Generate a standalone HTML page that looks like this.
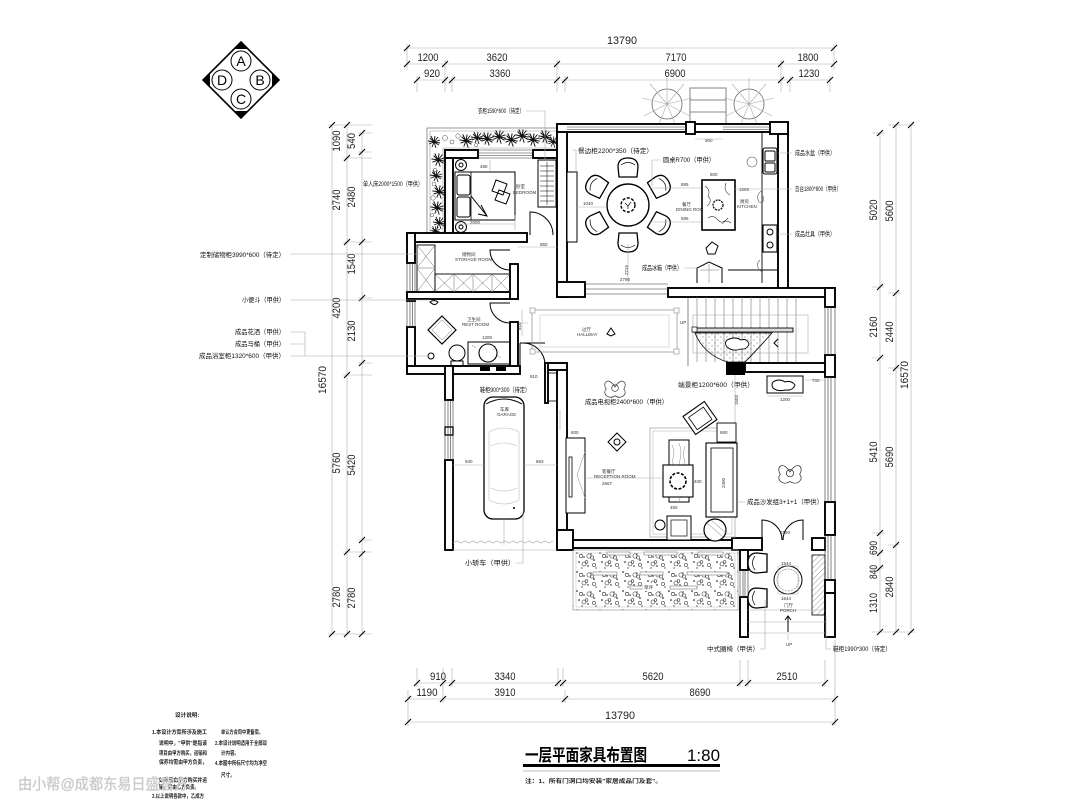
<!DOCTYPE html>
<html><head><meta charset="utf-8">
<style>
html,body{margin:0;padding:0;background:#fff;}
svg{display:block;}
text{font-family:"Liberation Sans","Noto Sans CJK SC",sans-serif;}
.d{font-family:"Liberation Sans Narrow","Liberation Sans",sans-serif;font-size:11px;fill:#222;}
.c{font-family:"Liberation Sans","Noto Sans CJK SC",sans-serif;font-size:6.5px;fill:#111;}
.s{font-size:4.5px;fill:#333;}
.n{font-family:"Liberation Sans","Noto Sans CJK SC",sans-serif;font-size:5.6px;fill:#222;font-weight:bold;}
.w{fill:#fff;stroke:#000;stroke-width:1.9;}
.g{stroke:#aaa;stroke-width:0.6;fill:none;}
.k{stroke:#000;stroke-width:1;fill:none;}
.t{stroke:#000;stroke-width:1.1;}
</style></head><body>
<svg width="1080" height="810" viewBox="0 0 1080 810" xmlns="http://www.w3.org/2000/svg">
<defs>
 <g id="pl" stroke="#111" stroke-width="0.9" fill="none">
  <path d="M0,0L6,-2M0,0L5,3M0,0L-5,2M0,0L-4,-4M0,0L1,-6M0,0L2,6M0,0L-6,-1M0,0L-2,5M0,0L4,-5M0,0L-3,-6M0,0L6,1"/>
 </g>
 <g id="ch">
  <path d="M-10,-3 Q-10,-12 0,-12 Q10,-12 10,-3 L9,7 L-9,7 Z" fill="#fff" stroke="#000" stroke-width="1.3"/>
  <path d="M-7,-5 Q0,-10 7,-5" fill="none" stroke="#000" stroke-width="0.7"/>
 </g>
 <g id="plant" stroke="#222" stroke-width="0.6" fill="none">
  <path d="M0,0 C-6,-10 -12,-4 -8,2 C-12,6 -6,12 0,8 C6,12 12,6 8,2 C12,-4 6,-10 0,0 Z"/>
  <circle cx="0" cy="1" r="3"/>
 </g>
 <pattern id="gd" width="23" height="19" patternUnits="userSpaceOnUse">
  <circle cx="2" cy="2" r="0.8" fill="#000"/>
  <circle cx="9" cy="6" r="0.7" fill="#000"/>
  <circle cx="4" cy="11" r="0.8" fill="#000"/>
  <circle cx="13" cy="15" r="0.7" fill="#000"/>
  <circle cx="19" cy="9" r="0.8" fill="#000"/>
  <circle cx="21" cy="17" r="0.6" fill="#000"/>
  <circle cx="7" cy="17" r="0.6" fill="#000"/>
  <circle cx="16" cy="3" r="0.6" fill="#000"/>
  <circle cx="14" cy="5" r="2.1" fill="none" stroke="#222" stroke-width="0.55"/>
  <circle cx="17" cy="6.5" r="1.6" fill="none" stroke="#222" stroke-width="0.55"/>
  <circle cx="6" cy="5" r="1.7" fill="none" stroke="#222" stroke-width="0.55"/>
  <circle cx="9" cy="13" r="2" fill="none" stroke="#222" stroke-width="0.55"/>
  <circle cx="11.5" cy="11" r="1.4" fill="none" stroke="#222" stroke-width="0.55"/>
  <circle cx="19" cy="14" r="1.6" fill="none" stroke="#222" stroke-width="0.55"/>
 </pattern>
 <pattern id="rk" width="6" height="6" patternUnits="userSpaceOnUse">
  <circle cx="1" cy="1" r="0.5" fill="#444"/>
  <circle cx="4" cy="4" r="0.5" fill="#444"/>
 </pattern>
 <pattern id="hz" width="4" height="4" patternUnits="userSpaceOnUse" patternTransform="rotate(45)">
  <line x1="0" y1="0" x2="0" y2="4" stroke="#555" stroke-width="0.6"/>
 </pattern>
</defs>

<!-- ================= COMPASS ================= -->
<g>
 <polygon points="241,42 279,80 241,118 203,80" fill="none" stroke="#000" stroke-width="1.6"/>
 <polygon points="241,42 234,49 248,49" fill="#000"/>
 <polygon points="279,80 272,73 272,87" fill="#000"/>
 <polygon points="241,118 234,111 248,111" fill="#000"/>
 <polygon points="203,80 210,73 210,87" fill="#000"/>
 <circle cx="241" cy="61" r="10" fill="#fff" stroke="#000" stroke-width="1"/>
 <circle cx="222" cy="80" r="10" fill="#fff" stroke="#000" stroke-width="1"/>
 <circle cx="260" cy="80" r="10" fill="#fff" stroke="#000" stroke-width="1"/>
 <circle cx="241" cy="99" r="10" fill="#fff" stroke="#000" stroke-width="1"/>
 <text x="241" y="66" font-size="14" text-anchor="middle" fill="#000">A</text>
 <text x="222" y="85" font-size="14" text-anchor="middle" fill="#000">D</text>
 <text x="260" y="85" font-size="14" text-anchor="middle" fill="#000">B</text>
 <text x="241" y="104" font-size="14" text-anchor="middle" fill="#000">C</text>
</g>

<!-- ================= TOP DIMENSIONS ================= -->
<g class="g">
 <line x1="407" y1="48" x2="834" y2="48"/>
 <line x1="407" y1="64" x2="834" y2="64"/>
 <line x1="417" y1="80" x2="830" y2="80"/>
 <path d="M407,44V70 M834,44V70 M445,60V92 M557,60V92 M781,60V92 M417,76V92 M452,76V92 M565,76V92 M790,76V92 M830,76V92"/>
</g>
<g class="t">
 <path d="M404,51L410,45 M831,51L837,45 M404,67L410,61 M442,67L448,61 M554,67L560,61 M778,67L784,61 M831,67L837,61 M414,83L420,77 M442,83L448,77 M449,83L455,77 M554,83L560,77 M562,83L568,77 M778,83L784,77 M787,83L793,77 M827,83L833,77"/>
</g>
<text class="d" x="622" y="44" text-anchor="middle" textLength="30" lengthAdjust="spacingAndGlyphs">13790</text>
<text class="d" x="428" y="61" text-anchor="middle" textLength="21" lengthAdjust="spacingAndGlyphs">1200</text>
<text class="d" x="497" y="61" text-anchor="middle" textLength="21" lengthAdjust="spacingAndGlyphs">3620</text>
<text class="d" x="676" y="61" text-anchor="middle" textLength="21" lengthAdjust="spacingAndGlyphs">7170</text>
<text class="d" x="808" y="61" text-anchor="middle" textLength="21" lengthAdjust="spacingAndGlyphs">1800</text>
<text class="d" x="432" y="77" text-anchor="middle" textLength="16" lengthAdjust="spacingAndGlyphs">920</text>
<text class="d" x="500" y="77" text-anchor="middle" textLength="21" lengthAdjust="spacingAndGlyphs">3360</text>
<text class="d" x="675" y="77" text-anchor="middle" textLength="21" lengthAdjust="spacingAndGlyphs">6900</text>
<text class="d" x="809" y="77" text-anchor="middle" textLength="21" lengthAdjust="spacingAndGlyphs">1230</text>

<!-- ================= LEFT DIMENSIONS ================= -->
<g class="g">
 <line x1="332" y1="125" x2="332" y2="634"/>
 <line x1="347" y1="125" x2="347" y2="634"/>
 <line x1="362" y1="133" x2="362" y2="634"/>
 <path d="M328,125H372 M343,158H372 M343,242H372 M343,375H372 M343,552H372 M328,634H372 M358,133H372 M358,152H372 M358,298H372 M358,363H372 M358,540H372"/>
</g>
<g class="t">
 <path d="M329,128L335,122 M329,637L335,631 M344,128L350,122 M344,161L350,155 M344,245L350,239 M344,378L350,372 M344,555L350,549 M344,637L350,631 M359,136L365,130 M359,155L365,149 M359,245L365,239 M359,301L365,295 M359,366L365,360 M359,543L365,537 M359,557L365,551 M359,637L365,631"/>
</g>
<g class="d">
 <text transform="translate(340,141) rotate(-90)" text-anchor="middle" textLength="21" lengthAdjust="spacingAndGlyphs">1090</text>
 <text transform="translate(340,200) rotate(-90)" text-anchor="middle" textLength="21" lengthAdjust="spacingAndGlyphs">2740</text>
 <text transform="translate(340,308) rotate(-90)" text-anchor="middle" textLength="21" lengthAdjust="spacingAndGlyphs">4200</text>
 <text transform="translate(340,463) rotate(-90)" text-anchor="middle" textLength="21" lengthAdjust="spacingAndGlyphs">5760</text>
 <text transform="translate(340,597) rotate(-90)" text-anchor="middle" textLength="21" lengthAdjust="spacingAndGlyphs">2780</text>
 <text transform="translate(355,141) rotate(-90)" text-anchor="middle" textLength="16" lengthAdjust="spacingAndGlyphs">540</text>
 <text transform="translate(355,197) rotate(-90)" text-anchor="middle" textLength="21" lengthAdjust="spacingAndGlyphs">2480</text>
 <text transform="translate(355,264) rotate(-90)" text-anchor="middle" textLength="21" lengthAdjust="spacingAndGlyphs">1540</text>
 <text transform="translate(355,331) rotate(-90)" text-anchor="middle" textLength="21" lengthAdjust="spacingAndGlyphs">2130</text>
 <text transform="translate(355,465) rotate(-90)" text-anchor="middle" textLength="21" lengthAdjust="spacingAndGlyphs">5420</text>
 <text transform="translate(355,598) rotate(-90)" text-anchor="middle" textLength="21" lengthAdjust="spacingAndGlyphs">2780</text>
 <text transform="translate(326,380) rotate(-90)" text-anchor="middle" textLength="28" lengthAdjust="spacingAndGlyphs">16570</text>
</g>

<!-- ================= RIGHT DIMENSIONS ================= -->
<g class="g">
 <line x1="880" y1="133" x2="880" y2="632"/>
 <line x1="896" y1="125" x2="896" y2="632"/>
 <line x1="911" y1="125" x2="911" y2="632"/>
 <path d="M872,133H884 M872,287H884 M872,358H884 M872,533H884 M872,553H884 M872,568H884 M872,632H915 M888,125H915 M888,293H900 M888,368H900 M888,545H900"/>
</g>
<g class="t">
 <path d="M877,136L883,130 M877,290L883,284 M877,361L883,355 M877,536L883,530 M877,556L883,550 M877,571L883,565 M877,635L883,629 M893,128L899,122 M893,296L899,290 M893,371L899,365 M893,548L899,542 M893,635L899,629 M908,128L914,122 M908,635L914,629"/>
</g>
<g class="d">
 <text transform="translate(877,210) rotate(-90)" text-anchor="middle" textLength="21" lengthAdjust="spacingAndGlyphs">5020</text>
 <text transform="translate(877,327) rotate(-90)" text-anchor="middle" textLength="21" lengthAdjust="spacingAndGlyphs">2160</text>
 <text transform="translate(877,452) rotate(-90)" text-anchor="middle" textLength="21" lengthAdjust="spacingAndGlyphs">5410</text>
 <text transform="translate(877,548) rotate(-90)" text-anchor="middle" textLength="14" lengthAdjust="spacingAndGlyphs">690</text>
 <text transform="translate(877,572) rotate(-90)" text-anchor="middle" textLength="14" lengthAdjust="spacingAndGlyphs">840</text>
 <text transform="translate(877,603) rotate(-90)" text-anchor="middle" textLength="20" lengthAdjust="spacingAndGlyphs">1310</text>
 <text transform="translate(893,211) rotate(-90)" text-anchor="middle" textLength="21" lengthAdjust="spacingAndGlyphs">5600</text>
 <text transform="translate(893,332) rotate(-90)" text-anchor="middle" textLength="21" lengthAdjust="spacingAndGlyphs">2440</text>
 <text transform="translate(893,457) rotate(-90)" text-anchor="middle" textLength="21" lengthAdjust="spacingAndGlyphs">5690</text>
 <text transform="translate(893,587) rotate(-90)" text-anchor="middle" textLength="21" lengthAdjust="spacingAndGlyphs">2840</text>
 <text transform="translate(908,375) rotate(-90)" text-anchor="middle" textLength="28" lengthAdjust="spacingAndGlyphs">16570</text>
</g>

<!-- ================= BOTTOM DIMENSIONS ================= -->
<g class="g">
 <line x1="417" y1="683" x2="825" y2="683"/>
 <line x1="408" y1="699" x2="835" y2="699"/>
 <line x1="408" y1="722" x2="835" y2="722"/>
 <path d="M417,668V687 M443,668V703 M452,668V687 M558,668V687 M563,668V687 M565,690V703 M740,660V687 M748,660V687 M825,660V687 M408,690V726 M835,640V726"/>
</g>
<g class="t">
 <path d="M414,686L420,680 M440,686L446,680 M449,686L455,680 M555,686L561,680 M560,686L566,680 M737,686L743,680 M745,686L751,680 M822,686L828,680 M405,702L411,696 M440,702L446,696 M562,702L568,696 M832,702L838,696 M405,725L411,719 M832,725L838,719"/>
</g>
<text class="d" x="438" y="680" text-anchor="middle" textLength="16" lengthAdjust="spacingAndGlyphs">910</text>
<text class="d" x="505" y="680" text-anchor="middle" textLength="21" lengthAdjust="spacingAndGlyphs">3340</text>
<text class="d" x="653" y="680" text-anchor="middle" textLength="21" lengthAdjust="spacingAndGlyphs">5620</text>
<text class="d" x="787" y="680" text-anchor="middle" textLength="21" lengthAdjust="spacingAndGlyphs">2510</text>
<text class="d" x="427" y="696" text-anchor="middle" textLength="21" lengthAdjust="spacingAndGlyphs">1190</text>
<text class="d" x="505" y="696" text-anchor="middle" textLength="21" lengthAdjust="spacingAndGlyphs">3910</text>
<text class="d" x="700" y="696" text-anchor="middle" textLength="21" lengthAdjust="spacingAndGlyphs">8690</text>
<text class="d" x="620" y="719" text-anchor="middle" textLength="30" lengthAdjust="spacingAndGlyphs">13790</text>

<!-- ================= OUTSIDE TOP (steps & plants) ================= -->
<g>
 <rect x="690" y="88" width="36" height="36" fill="none" stroke="#666" stroke-width="0.8"/>
 <path d="M690,100H726 M690,112H726" stroke="#666" stroke-width="0.7"/>
 <circle cx="667" cy="104" r="15" fill="none" stroke="#666" stroke-width="0.8"/>
 <circle cx="749" cy="104" r="15" fill="none" stroke="#666" stroke-width="0.8"/>
 <g stroke="#aaa" stroke-width="0.6">
  <path d="M667,104L667,78 M667,104L684,84 M667,104L692,98 M667,104L690,116 M667,104L650,84 M667,104L642,98 M667,104L644,116 M667,104L658,126 M667,104L676,126"/>
  <path d="M749,104L749,78 M749,104L766,84 M749,104L774,98 M749,104L772,116 M749,104L732,84 M749,104L724,98 M749,104L726,116 M749,104L740,126 M749,104L758,126"/>
 </g>
</g>

<!-- ================= PLANTER (top-left) ================= -->
<g>
 <path d="M427,238V128H557" fill="none" stroke="#777" stroke-width="0.8"/>
 <path d="M430,238V131H557" fill="none" stroke="#999" stroke-width="0.6"/>
 <path d="M443,233V148H557" fill="none" stroke="#999" stroke-width="0.6"/>
 <g>
  <use href="#pl" transform="translate(466,141) scale(1.1)"/>
  <use href="#pl" transform="translate(477,138) scale(1.0)"/>
  <use href="#pl" transform="translate(487,139) scale(1.1)"/>
  <use href="#pl" transform="translate(499,137) scale(1.1)"/>
  <use href="#pl" transform="translate(511,140) scale(1.1)"/>
  <use href="#pl" transform="translate(522,136) scale(1.1)"/>
  <use href="#pl" transform="translate(533,140) scale(1.1)"/>
  <use href="#pl" transform="translate(545,137) scale(1.1)"/>
  <use href="#pl" transform="translate(553,142) scale(0.9)"/>
  <use href="#pl" transform="translate(434,142) scale(1.0)"/>
  <use href="#pl" transform="translate(438,160) scale(1.1)"/>
  <use href="#pl" transform="translate(436,176) scale(1.0)"/>
  <use href="#pl" transform="translate(439,192) scale(1.1)"/>
  <use href="#pl" transform="translate(437,208) scale(1.1)"/>
  <use href="#pl" transform="translate(439,223) scale(1.0)"/>
  <use href="#pl" transform="translate(435,231) scale(0.8)"/>
 </g>
 <g fill="none" stroke="#444" stroke-width="0.5">
  <circle cx="445" cy="138" r="2.5"/><circle cx="452" cy="142" r="2"/><circle cx="458" cy="136" r="2.2"/>
  <circle cx="434" cy="184" r="2"/><circle cx="433" cy="198" r="2.2"/><circle cx="435" cy="170" r="1.8"/>
  <circle cx="476" cy="145" r="1.6"/><circle cx="432" cy="215" r="1.8"/>
 </g>
</g>

<!-- ================= WALLS ================= -->
<g class="w">
 <rect x="557" y="124" width="10" height="173"/>
 <rect x="557" y="124" width="231" height="8"/>
 <rect x="778" y="124" width="10" height="168"/>
 <rect x="557" y="282" width="28" height="15"/>
 <rect x="668" y="288" width="165" height="9"/>
 <rect x="445" y="150" width="8" height="90"/>
 <rect x="445" y="150" width="33" height="8"/>
 <rect x="533" y="150" width="24" height="8"/>
 <rect x="407" y="233" width="120" height="9"/>
 <rect x="407" y="233" width="8" height="30"/>
 <rect x="407" y="292" width="8" height="9"/>
 <rect x="407" y="327" width="8" height="46"/>
 <rect x="407" y="292" width="111" height="7"/>
 <rect x="510" y="264" width="8" height="35"/>
 <rect x="510" y="322" width="8" height="51"/>
 <rect x="407" y="366" width="113" height="8"/>
 <rect x="445" y="366" width="8" height="34"/>
 <rect x="445" y="460" width="8" height="90"/>
 <rect x="557" y="368" width="10" height="182"/>
 <rect x="545" y="363" width="22" height="7"/>
 <rect x="545" y="363" width="3" height="40"/>
 <rect x="557" y="530" width="16" height="20"/>
 <rect x="573" y="540" width="167" height="8"/>
 <rect x="732" y="538" width="30" height="12"/>
 <rect x="740" y="550" width="8" height="20"/>
 <rect x="740" y="597" width="8" height="40"/>
 <rect x="812" y="538" width="13" height="12"/>
 <rect x="825" y="288" width="10" height="19"/>
 <rect x="825" y="355" width="10" height="22"/>
 <rect x="825" y="502" width="10" height="33"/>
 <rect x="825" y="580" width="10" height="13"/>
 <rect x="825" y="593" width="10" height="44"/>
 <rect x="745" y="363" width="80" height="9"/>
</g>
<rect x="726" y="362" width="19" height="13" fill="#000"/>
<rect x="686" y="122" width="9" height="12" fill="#fff" stroke="#000" stroke-width="1.9"/>
<rect x="770" y="122" width="18" height="12" fill="#fff" stroke="#000" stroke-width="1.9"/>
<rect x="445" y="427" width="8" height="8" fill="#fff" stroke="#000" stroke-width="1.4"/>
<g stroke="#333" stroke-width="0.6" fill="none">
 <path d="M567,127H686 M567,129.5H686 M723,127H770 M723,129.5H770"/>
 <path d="M478,150H533 M478,153H533 M478,155.5H533 M478,158H533"/>
 <path d="M407,263V292 M410,263V292 M412.5,263V292 M415,263V292"/>
 <path d="M407,301V327 M410,301V327 M412.5,301V327 M415,301V327"/>
 <path d="M445,400V460 M448,400V460 M450.5,400V460 M453,400V460"/>
 <path d="M825,307V355 M828,307V355 M831,307V355 M835,307V355"/>
 <path d="M825,377V502 M828,377V502 M831,377V502 M835,377V502"/>
 <path d="M825,535V580 M828,535V580 M831,535V580 M835,535V580"/>
 <path d="M740,570V597 M743,570V597 M745,570V597 M748,570V597"/>
 <path d="M585,284H668 M585,289H668 M585,294H668"/>
</g>

<!-- ================= BEDROOM ================= -->
<g>
 <rect x="455" y="172" width="60" height="48" fill="#fff" stroke="#000" stroke-width="1"/>
 <rect x="455" y="172" width="16" height="48" fill="none" stroke="#000" stroke-width="0.8"/>
 <rect x="457" y="175" width="13" height="20" rx="2" fill="none" stroke="#000" stroke-width="1"/>
 <rect x="457" y="197" width="13" height="20" rx="2" fill="none" stroke="#000" stroke-width="1"/>
 <path d="M471,196L487,216 M478,214L487,216L481,205" class="k"/>
 <path d="M496,180L507,184L503,195L492,191Z M499,190L510,194L506,204L495,200Z" class="k"/>
 <circle cx="461" cy="165" r="5.5" class="k"/><circle cx="461" cy="165" r="2" class="k"/>
 <circle cx="461" cy="227" r="5.5" class="k"/><circle cx="461" cy="227" r="2" class="k"/>
 <rect x="538" y="160" width="18" height="47" fill="#fff" stroke="#000" stroke-width="1"/>
 <path d="M540,166H554 M540,171H554 M540,176H554 M540,181H554 M540,186H554 M540,191H554 M540,196H554 M540,201H554" stroke="#000" stroke-width="0.6"/>
 <line x1="547" y1="162" x2="547" y2="205" stroke="#000" stroke-width="0.5"/>
 <path d="M530,235V212A23,23 0 0 1 553,235" class="k"/>
 <text class="s" x="516" y="188">卧室</text>
 <text class="s" x="513" y="194" font-size="3.5">BEDROOM</text>
 <text class="s" x="480" y="168">480</text>
 <text class="s" x="470" y="224">2000</text>
 <path d="M490,160V171 M515,215V230 M455,224H515" class="g"/>
</g>
<text class="c" x="363" y="186" textLength="60" lengthAdjust="spacingAndGlyphs">单人床2000*1500（甲供）</text>
<text class="c" x="478" y="113" textLength="46" lengthAdjust="spacingAndGlyphs">衣柜1590*600（待定）</text>
<path d="M526,111H545V160" class="g"/>

<!-- ================= STORAGE ================= -->
<g>
 <rect x="417" y="245" width="18" height="47" fill="none" stroke="#000" stroke-width="0.9"/>
 <path d="M417,245L435,268M435,245L417,268M417,268L435,292M435,268L417,292M417,268H435" stroke="#666" stroke-width="0.5"/>
 <rect x="435" y="274" width="75" height="18" fill="none" stroke="#000" stroke-width="0.9"/>
 <path d="M454,274V292M473,274V292M492,274V292 M435,274L454,292M454,274L435,292M454,274L473,292M473,274L454,292M473,274L492,292M492,274L473,292M492,274L510,292M510,274L492,292" stroke="#666" stroke-width="0.5"/>
 <path d="M510,250L490,250A20,20 0 0 0 510,270" class="k"/>
 <text class="s" x="462" y="256">储物间</text>
 <text class="s" x="455" y="261" font-size="3.5">STORAGE ROOM</text>
 <text class="s" x="540" y="246">850</text>
 <path d="M518,247H557" class="g"/>
</g>

<!-- ================= BATHROOM ================= -->
<g>
 <polygon points="442,316 456,330 442,344 428,330" fill="none" stroke="#000" stroke-width="1.2"/>
 <polygon points="442,320 452,330 442,340 432,330" fill="none" stroke="#777" stroke-width="0.5"/>
 <ellipse cx="457" cy="353" rx="8" ry="8" class="k"/>
 <rect x="451" y="361" width="12" height="5" class="k"/>
 <rect x="468" y="342" width="42" height="22" fill="none" stroke="#000" stroke-width="1"/>
 <circle cx="488" cy="353" r="9" fill="#fff" stroke="#000" stroke-width="1.1"/>
 <path d="M472,345l4,3m20,-2l-3,4m8,8l-4,-3" stroke="#777" stroke-width="0.5"/>
 <path d="M430,302q4,-3 8,0q-3,5 -8,0Z" class="k"/>
 <circle cx="431" cy="356" r="3" class="k"/>
 <path d="M510,303L490,303A20,20 0 0 0 510,323" class="k"/>
 <text class="s" x="467" y="321">卫生间</text>
 <text class="s" x="462" y="326" font-size="3.5">REST ROOM</text>
 <text class="s" x="482" y="339">1200</text>
 <rect x="480" y="367" width="10" height="4" fill="#000"/>
 <rect x="496" y="367" width="10" height="4" fill="#000"/>
</g>
<text class="c" x="285" y="257" text-anchor="end" textLength="85" lengthAdjust="spacingAndGlyphs">定制储物柜3990*600（待定）</text>
<text class="c" x="285" y="302" text-anchor="end" textLength="43" lengthAdjust="spacingAndGlyphs">小便斗（甲供）</text>
<text class="c" x="285" y="334" text-anchor="end" textLength="50" lengthAdjust="spacingAndGlyphs">成品花洒（甲供）</text>
<text class="c" x="285" y="346" text-anchor="end" textLength="50" lengthAdjust="spacingAndGlyphs">成品马桶（甲供）</text>
<text class="c" x="285" y="358" text-anchor="end" textLength="86" lengthAdjust="spacingAndGlyphs">成品浴室柜1320*600（甲供）</text>
<path d="M290,254H420 M290,300H430 M290,332H305V356 M290,344H305 M290,356H430" class="g"/>

<!-- ================= CORRIDOR DOOR / SHOE CABINET ================= -->
<path d="M520,343H545 M520,343V365 M545,365A22,22 0 0 0 523,343" class="k"/>
<rect x="548" y="373" width="9" height="28" fill="none" stroke="#000" stroke-width="0.8"/>
<text class="c" x="480" y="392" textLength="50" lengthAdjust="spacingAndGlyphs">鞋柜900*300（待定）</text>
<text class="s" x="530" y="378">810</text>

<!-- ================= GARAGE ================= -->
<g>
 <rect x="484" y="397" width="40" height="122" rx="9" fill="#fff" stroke="#000" stroke-width="1.3"/>
 <path d="M486,404Q504,394 522,404" class="k"/>
 <path d="M489,432Q504,424 519,432 M489,432V500 M519,432V500 M489,500Q504,508 519,500 M491,446Q504,440 517,446 M491,488Q504,494 517,488" stroke="#bbb" stroke-width="0.6" fill="none"/>
 <text class="s" x="500" y="411">车库</text>
 <text class="s" x="497" y="416" font-size="3.5">GARAGE</text>
 <path d="M453,465H484 M524,465H557 M504,519V545" class="g"/>
 <text class="s" x="465" y="463">930</text>
 <text class="s" x="536" y="463">883</text>
 <path d="M453,543l4,-2l4,2l4,-2l4,2l4,-2l4,2l4,-2l4,2l4,-2l4,2l4,-2l4,2l4,-2l4,2l4,-2l4,2l4,-2l4,2l4,-2l4,2l4,-2l4,2l4,-2l4,2l4,-2" stroke="#aaa" stroke-width="0.6" fill="none"/>
 <path d="M453,550H557" class="g"/>
 <circle cx="514" cy="508" r="1" fill="#000"/>
</g>
<text class="c" x="465" y="565" textLength="50" lengthAdjust="spacingAndGlyphs">小轿车（甲供）</text>
<path d="M516,563H523V512" class="g"/>

<!-- ================= DINING ================= -->
<g>
 <rect x="567" y="172" width="10" height="70" fill="#fff" stroke="#000" stroke-width="1"/>
 <g transform="translate(628,170)"><use href="#ch"/></g>
 <g transform="translate(658,187) rotate(60)"><use href="#ch"/></g>
 <g transform="translate(658,223) rotate(120)"><use href="#ch"/></g>
 <g transform="translate(628,240) rotate(180)"><use href="#ch"/></g>
 <g transform="translate(598,223) rotate(240)"><use href="#ch"/></g>
 <g transform="translate(598,187) rotate(300)"><use href="#ch"/></g>
 <circle cx="628" cy="205" r="21" fill="#fff" stroke="#000" stroke-width="1.4"/>
 <circle cx="628" cy="205" r="7" fill="none" stroke="#000" stroke-width="1.4" stroke-dasharray="3,1.5"/>
 <path d="M625,203l3,3l3,-4M628,206v3" stroke="#000" stroke-width="0.7" fill="none"/>
 <path d="M577,207H607 M649,188H702 M649,222H702 M628,244V283" class="g"/>
 <text class="s" x="583" y="205">1040</text>
 <text class="s" x="681" y="186">885</text>
 <text class="s" x="681" y="220">595</text>
 <text class="s" x="682" y="206">餐厅</text>
 <text class="s" x="676" y="211" font-size="3.5">DINING ROOM</text>
 <text class="s" transform="translate(628,275) rotate(-90)">2215</text>
 <text class="s" x="620" y="281">2795</text>
</g>
<text class="c" x="578" y="153" textLength="75" lengthAdjust="spacingAndGlyphs">餐边柜2200*350（待定）</text>
<path d="M572,150H576V172" class="g"/>
<text class="c" x="663" y="162" textLength="52" lengthAdjust="spacingAndGlyphs">圆桌R700（甲供）</text>
<path d="M660,160H652V186" class="g"/>

<!-- ================= KITCHEN ================= -->
<g>
 <path d="M762,133V283 M728,270H778" stroke="#000" stroke-width="0.9" fill="none"/>
 <rect x="763" y="148" width="14" height="26" rx="2" fill="#fff" stroke="#000" stroke-width="1.1"/>
 <rect x="765" y="151" width="10" height="10" rx="1" class="k"/>
 <rect x="765" y="163" width="10" height="9" rx="1" class="k"/>
 <rect x="763" y="225" width="14" height="27" fill="#fff" stroke="#000" stroke-width="1.1"/>
 <circle cx="770" cy="232" r="3" class="k"/><circle cx="770" cy="245" r="3" class="k"/>
 <circle cx="752" cy="162" r="5" fill="none" stroke="#555" stroke-width="0.6"/>
 <path d="M763,190q-8,4 -4,12q6,2 4,-6 M760,260q-6,6 2,12" stroke="#555" stroke-width="0.6" fill="none"/>
 <rect x="702" y="180" width="33" height="50" fill="#fff" stroke="#000" stroke-width="1.6"/>
 <path d="M705,186q6,4 3,10q5,5 -1,10 M726,183q-3,8 4,12 M708,218q5,-4 10,2q4,5 10,-2 M722,224q4,-5 9,-1" stroke="#333" stroke-width="0.6" fill="none"/>
 <circle cx="718" cy="205" r="5" fill="none" stroke="#000" stroke-width="1.2" stroke-dasharray="2,1"/>
 <text class="s" x="710" y="176">800</text>
 <text class="s" x="739" y="191">1085</text>
 <text class="s" x="740" y="203">厨房</text>
 <text class="s" x="737" y="208" font-size="3.5">KITCHEN</text>
 <path d="M697,283V268L709,262L722,268V283" class="k"/>
 <path d="M700,270H719M709,264V283" stroke="#777" stroke-width="0.5"/>
 <path d="M706,248l6,-6l6,4l-3,8l-7,0Z" class="k"/>
 <text class="s" x="705" y="142">900</text>
 <path d="M695,139H723" class="g"/>
</g>
<text class="c" x="795" y="155" textLength="40" lengthAdjust="spacingAndGlyphs">成品水盆（甲供）</text>
<text class="c" x="795" y="191" textLength="46" lengthAdjust="spacingAndGlyphs">岛台1800*800（甲供）</text>
<text class="c" x="795" y="236" textLength="40" lengthAdjust="spacingAndGlyphs">成品灶具（甲供）</text>
<text class="c" x="642" y="270" textLength="40" lengthAdjust="spacingAndGlyphs">成品冰箱（甲供）</text>
<path d="M778,153H792 M735,189H792 M778,234H792 M684,268H697" class="g"/>

<!-- ================= HALLWAY ================= -->
<g>
 <rect x="532" y="310" width="145" height="42" fill="none" stroke="#999" stroke-width="0.8"/>
 <rect x="540" y="315" width="129" height="32" fill="none" stroke="#bbb" stroke-width="0.5"/>
 <rect x="530" y="308" width="5" height="5" fill="#fff" stroke="#888" stroke-width="0.6"/>
 <rect x="674" y="308" width="5" height="5" fill="#fff" stroke="#888" stroke-width="0.6"/>
 <rect x="530" y="349" width="5" height="5" fill="#fff" stroke="#888" stroke-width="0.6"/>
 <rect x="674" y="349" width="5" height="5" fill="#fff" stroke="#888" stroke-width="0.6"/>
 <text class="s" x="582" y="331">过厅</text>
 <text class="s" x="577" y="336" font-size="3.5">HALLWAY</text>
 <path d="M607,334l4,-6l4,6l-4,2Z" class="k"/>
 <text class="s" x="680" y="324">UP</text>
 <path d="M518,323H528 M522,310V336" class="g"/>
 <text class="s" transform="translate(521,330) rotate(-90)">810</text>
</g>

<!-- ================= STAIRS ================= -->
<g>
 <path d="M688,297V366" stroke="#555" stroke-width="0.7"/>
 <g stroke="#777" stroke-width="0.6">
  <path d="M697,297V362 M706,297V362 M715,297V362 M724,297V362 M733,297V362 M742,297V362 M751,297V362 M760,297V362 M769,297V362 M778,297V362 M787,297V362 M796,297V362"/>
 </g>
 <rect x="693" y="315" width="115" height="38" fill="none" stroke="#aaa" stroke-width="0.6"/>
 <path d="M695,333C700,346 712,358 728,362L745,362C755,352 764,342 772,333Z" fill="url(#rk)" stroke="#000" stroke-width="0.8"/>
 <rect x="693" y="328" width="100" height="4" fill="#ddd" stroke="#000" stroke-width="0.9"/>
 <rect x="692" y="327" width="5" height="5" fill="#fff" stroke="#000" stroke-width="0.7"/>
 <path d="M727,340q8,-4 14,0q6,-2 8,4q-2,6 -8,5q-8,3 -14,-2q-3,-4 0,-7Z" fill="#fff" stroke="#000" stroke-width="0.9"/>
 <path d="M778,347l-4,-4l4,-4" class="k"/>
</g>
<rect x="767" y="376" width="36" height="17" fill="#fff" stroke="#000" stroke-width="1"/>
<path d="M773,382q6,-4 12,0q6,-2 10,3q-2,6 -10,5q-7,2 -12,-2q-2,-3 0,-6Z" class="k"/>
<text class="s" x="780" y="401">1200</text>
<text class="s" x="812" y="382">700</text>
<path d="M767,396H803 M805,380H825" class="g"/>
<text class="c" x="678" y="387" textLength="76" lengthAdjust="spacingAndGlyphs">端景柜1200*600（甲供）</text>
<path d="M735,375V440" class="g"/>
<text class="s" transform="translate(738,405) rotate(-90)">1503</text>

<!-- ================= LIVING ================= -->
<g>
 <rect x="566" y="438" width="19" height="75" fill="#fff" stroke="#000" stroke-width="1"/>
 <rect x="569" y="457" width="3" height="40" fill="none" stroke="#000" stroke-width="0.8"/>
 <path d="M585,452L577,475L585,498" stroke="#888" stroke-width="0.5" fill="none"/>
 <path d="M585,478H663 M560,410V430" class="g"/>
 <text class="s" x="571" y="434">600</text>
 <rect x="650" y="428" width="85" height="109" fill="none" stroke="#aaa" stroke-width="0.8"/>
 <rect x="653" y="431" width="79" height="103" fill="none" stroke="#aaa" stroke-width="0.5"/>
 <rect x="669" y="440" width="20" height="62" fill="#fff" stroke="#000" stroke-width="1"/>
 <path d="M672,445q4,8 0,16q4,8 0,16q4,8 0,16 M679,443q4,10 0,20q4,10 0,20q4,10 0,18 M685,446q-3,8 0,16q-3,8 0,16" stroke="#666" stroke-width="0.4" fill="none"/>
 <rect x="663" y="465" width="30" height="32" fill="#fff" stroke="#000" stroke-width="1.1"/>
 <circle cx="678" cy="481" r="8" fill="none" stroke="#000" stroke-width="1.6" stroke-dasharray="3,1.5"/>
 <rect x="706" y="443" width="31" height="74" fill="#fff" stroke="#000" stroke-width="1.1"/>
 <rect x="711" y="448" width="22" height="64" fill="none" stroke="#000" stroke-width="0.8"/>
 <text class="s" x="694" y="483">400</text>
 <text class="s" transform="translate(725,488) rotate(-90)">2400</text>
 <g transform="translate(700,418) rotate(-35)">
  <rect x="-13" y="-11" width="26" height="22" fill="#fff" stroke="#000" stroke-width="1.1"/>
  <rect x="-9" y="-7" width="18" height="15" fill="none" stroke="#000" stroke-width="0.8"/>
 </g>
 <rect x="717" y="423" width="19" height="19" fill="#fff" stroke="#000" stroke-width="0.9"/>
 <text class="s" x="720" y="434">650</text>
 <rect x="667" y="516" width="24" height="24" fill="#fff" stroke="#000" stroke-width="1"/>
 <rect x="671" y="520" width="16" height="16" fill="none" stroke="#000" stroke-width="0.7"/>
 <circle cx="660" cy="525" r="5" class="k"/>
 <circle cx="715" cy="530" r="11" fill="#fff" stroke="#000" stroke-width="1.2"/>
 <path d="M707,523L723,537M711,520L726,533" stroke="#777" stroke-width="0.5"/>
 <text class="s" x="670" y="509">450</text>
 <use href="#plant" transform="translate(615,387) scale(1.1)"/>
 <g transform="translate(617,442)">
  <polygon points="0,-9 9,0 0,9 -9,0" fill="none" stroke="#000" stroke-width="1"/>
  <circle cx="0" cy="0" r="3" class="k"/>
 </g>
 <use href="#plant" transform="translate(790,472) scale(1.2)"/>
 <text class="s" x="602" y="473">客餐厅</text>
 <text class="s" x="594" y="478" font-size="3.3">RECEPTION ROOM</text>
 <text class="s" x="602" y="485">2667</text>
 <path d="M762,540V520A20,20 0 0 1 782,540 M803,540V520A20,20 0 0 0 783,540" class="k"/>
 <text class="s" x="780" y="534">1550</text>
</g>
<text class="c" x="585" y="404" textLength="83" lengthAdjust="spacingAndGlyphs">成品电视柜2400*600（甲供）</text>
<text class="c" x="747" y="504" textLength="76" lengthAdjust="spacingAndGlyphs">成品沙发组3+1+1（甲供）</text>
<path d="M737,502H745" class="g"/>

<!-- ================= GARDEN ================= -->
<g>
 <rect x="573" y="550" width="165" height="60" fill="url(#gd)" stroke="#999" stroke-width="0.7"/>
 <rect x="576" y="553" width="159" height="54" fill="none" stroke="#bbb" stroke-width="0.5"/>
 <g fill="#fff" stroke="#777" stroke-width="0.6">
  <rect x="607" y="552" width="23" height="3"/><rect x="644" y="552" width="33" height="3"/><rect x="698" y="552" width="25" height="3"/>
  <rect x="593" y="572" width="24" height="3"/><rect x="640" y="572" width="23" height="3"/><rect x="687" y="572" width="40" height="3"/>
  <rect x="630" y="586" width="20" height="3"/><rect x="670" y="586" width="27" height="3"/>
 </g>
 <rect x="643" y="583" width="12" height="8" fill="#fff"/>
 <text class="s" x="644" y="589" font-size="5">草坪</text>
</g>

<!-- ================= PORCH ================= -->
<g>
 <rect x="812" y="555" width="13" height="60" fill="url(#hz)" stroke="#000" stroke-width="0.8"/>
 <g transform="translate(760,563) rotate(-90)"><use href="#ch"/></g>
 <g transform="translate(760,598) rotate(-90)"><use href="#ch"/></g>
 <circle cx="788" cy="580" r="14" fill="#fff" stroke="#000" stroke-width="1"/>
 <circle cx="788" cy="580" r="11" fill="none" stroke="#777" stroke-width="0.6" stroke-dasharray="2,1"/>
 <rect x="778" y="566" width="20" height="28" fill="none" stroke="#aaa" stroke-width="0.5"/>
 <text class="s" x="781" y="565">1544</text>
 <text class="s" x="781" y="600">1544</text>
 <path d="M748,610H825 M748,622H825 M748,633H825" stroke="#aaa" stroke-width="0.6"/>
 <text class="s" x="784" y="607">门厅</text>
 <text class="s" x="780" y="612" font-size="3.3">PORCH</text>
 <path d="M788,632V617 M785,620L788,616L791,620" class="k"/>
 <path d="M788,634V640" class="g"/>
 <text class="s" x="786" y="646" font-size="5">UP</text>
</g>
<text class="c" x="707" y="651" textLength="52" lengthAdjust="spacingAndGlyphs">中式圈椅（甲供）</text>
<path d="M760,649H765V600" class="g"/>
<text class="c" x="833" y="651" textLength="58" lengthAdjust="spacingAndGlyphs">鞋柜1990*300（待定）</text>
<path d="M826,649H831 M826,649V615" class="g"/>

<!-- ================= NOTES ================= -->
<g class="n">
 <text x="175" y="717">设计说明:</text>
 <text x="152" y="734" textLength="55" lengthAdjust="spacingAndGlyphs">1.本设计方案所涉及施工</text>
 <text x="159" y="745" textLength="48" lengthAdjust="spacingAndGlyphs">说明中，"甲供"是指该</text>
 <text x="159" y="755" textLength="48" lengthAdjust="spacingAndGlyphs">项目由甲方购买，运输和</text>
 <text x="159" y="764" textLength="48" lengthAdjust="spacingAndGlyphs">保养均需由甲方负责，</text>
 <text x="159" y="782" textLength="48" lengthAdjust="spacingAndGlyphs">如果需由甲方购买并运</text>
 <text x="159" y="789" textLength="40" lengthAdjust="spacingAndGlyphs">输，需由乙方负责。</text>
 <text x="152" y="798" textLength="52" lengthAdjust="spacingAndGlyphs">3.以上说明各款中，乙成方</text>
 <text x="221" y="734" textLength="42" lengthAdjust="spacingAndGlyphs">单认方合同中更备案。</text>
 <text x="215" y="745" textLength="52" lengthAdjust="spacingAndGlyphs">2.本设计说明适用于全部设</text>
 <text x="221" y="755" textLength="18" lengthAdjust="spacingAndGlyphs">计内容。</text>
 <text x="215" y="765" textLength="52" lengthAdjust="spacingAndGlyphs">4.本图中所标尺寸均为净空</text>
 <text x="221" y="777" textLength="14" lengthAdjust="spacingAndGlyphs">尺寸。</text>
</g>
<text x="18" y="789" font-size="15" fill="#bdbdbd" stroke="#d8d8d8" stroke-width="0.6" textLength="170" lengthAdjust="spacingAndGlyphs">由小帮@成都东易日盛官方</text>

<!-- ================= TITLE ================= -->
<text x="525" y="761" font-family="'Liberation Sans','Noto Sans CJK SC',sans-serif" font-size="17" font-weight="bold" fill="#000" textLength="122" lengthAdjust="spacingAndGlyphs">一层平面家具布置图</text>
<text x="687" y="761" font-family="'Liberation Sans',sans-serif" font-size="17" fill="#000" textLength="33" lengthAdjust="spacingAndGlyphs">1:80</text>
<rect x="523" y="764" width="197" height="3" fill="#000"/>
<line x1="523" y1="771" x2="720" y2="771" stroke="#bbb" stroke-width="1"/>
<text class="n" x="525" y="783" font-size="7" textLength="137" lengthAdjust="spacingAndGlyphs">注：1、所有门洞口均安装"家居成品门及套"。</text>
</svg>
</body></html>
